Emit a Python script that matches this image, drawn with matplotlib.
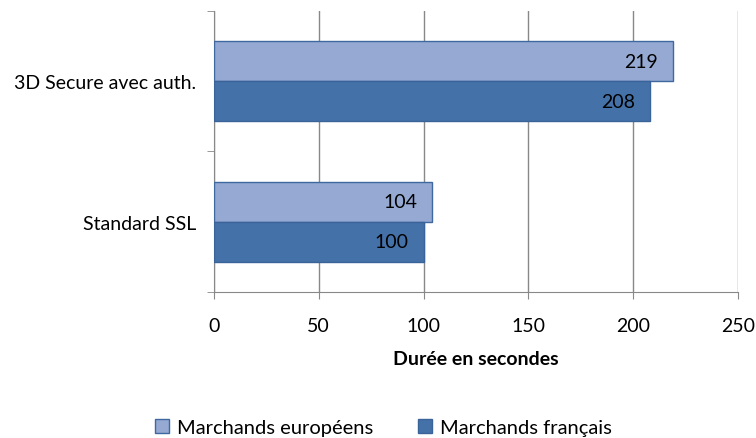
import matplotlib.pyplot as plt
import numpy as np

categories = ["Standard SSL", "3D Secure avec auth."]
europeens = [104, 219]
francais = [100, 208]
series_names = ["Marchands européens", "Marchands français"]

plt.rcParams['font.family'] = ['Lato', 'DejaVu Sans']

fig = plt.figure(figsize=(7.56, 4.39), dpi=100)
ax = fig.add_axes([0.283, 0.333, 0.693, 0.640])

y = np.arange(len(categories))
h = 0.285
b1 = ax.barh(y + h / 2, europeens, height=h, color="#95a9d2", edgecolor="#3f67a0",
             linewidth=1, label=series_names[0], zorder=3)
b2 = ax.barh(y - h / 2, francais, height=h, color="#4471a8", edgecolor="#3a6399",
             linewidth=1, label=series_names[1], zorder=3)

# value labels inside the bar ends
for bars, vals in ((b1, europeens), (b2, francais)):
    for bar, v in zip(bars, vals):
        ax.text(v - 7, bar.get_y() + bar.get_height() / 2, str(v),
                ha="right", va="center", fontsize=14, color="black", zorder=4)

ax.set_xlim(0, 250)
ax.set_ylim(-0.5, 1.5)
ax.set_xticks(np.arange(0, 251, 50))
ax.set_yticks(y)
ax.set_yticklabels(categories, fontsize=14)
ax.set_yticks([-0.5, 0.5, 1.5], minor=True)
ax.tick_params(axis="y", which="major", length=0, pad=13)
ax.tick_params(axis="y", which="minor", length=5, color="#888888", direction="out")
ax.tick_params(axis="x", length=5, color="#888888", labelsize=14, pad=13)
ax.xaxis.grid(True, color="#888888", linewidth=1, zorder=0)

for s in ("top", "right"):
    ax.spines[s].set_visible(False)
for s in ("left", "bottom"):
    ax.spines[s].set_color("#888888")

ax.set_xlabel("Durée en secondes", fontsize=14, fontweight="bold", labelpad=12)

fig.legend(handles=[b1, b2], loc="center", bbox_to_anchor=(0.507, 0.024),
           ncol=2, frameon=False, fontsize=14.5, handlelength=0.7, handleheight=0.7,
           columnspacing=2.2, handletextpad=0.4, borderpad=0)

fig.savefig("out.png", dpi=100)
